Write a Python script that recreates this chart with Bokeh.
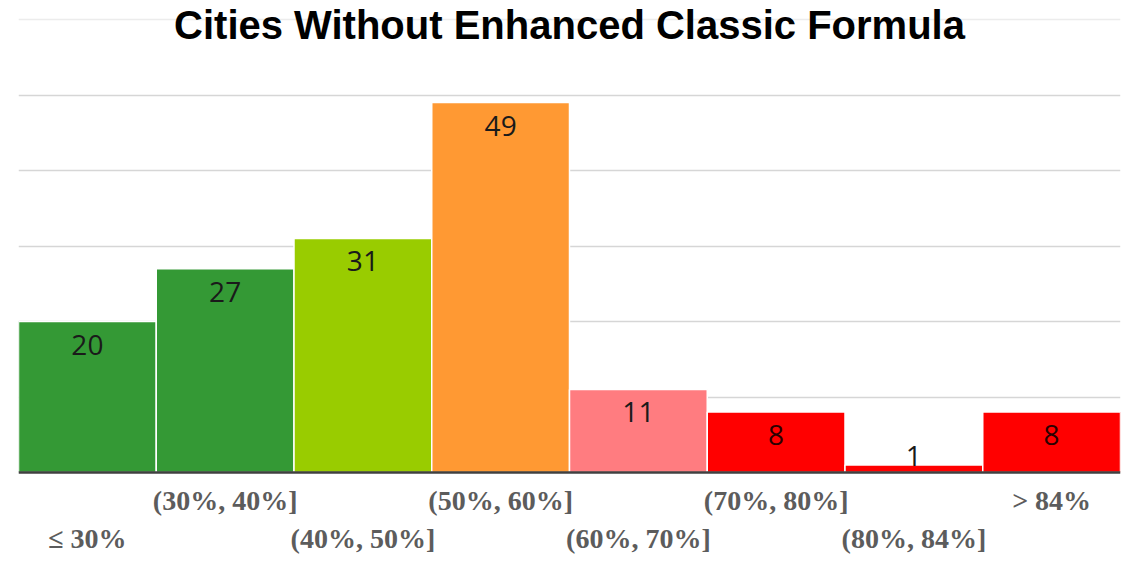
from bokeh.plotting import figure
from bokeh.models import ColumnDataSource, Span, FixedTicker, Label, Grid
from bokeh.core.properties import value
from bokeh.embed import file_html
from bokeh.resources import INLINE

# Distribution of cities by share range
categories = ["\u2264 30%", "(30%, 40%]", "(40%, 50%]", "(50%, 60%]",
              "(60%, 70%]", "(70%, 80%]", "(80%, 84%]", "> 84%"]
counts = [20, 27, 31, 49, 11, 8, 1, 8]
bar_colors = ["#349935", "#349935", "#99cc00", "#ff9933",
              "#ff7c80", "#ff0000", "#ff0000", "#ff0000"]
label_colors = ["#1a1a1a", "#1a1a1a", "#1a1a1a", "#1a1a1a",
                "#1a1a1a", "#2a0000", "#1a1a1a", "#2a0000"]
grid_ticks = [10, 20, 30, 40, 50]
top_tick = 60
title_text = "Cities Without Enhanced Classic Formula"

# Canvas geometry (pixels)
W, H = 1123, 571
LEFT, RIGHT = 18, 3
BASE_Y = 472            # canvas row of the zero line
PX_PER_UNIT = 7.55      # vertical pixels per city

n = len(categories)
xs = [i + 0.5 for i in range(n)]
y_start = -(H - BASE_Y) / PX_PER_UNIT
y_end = BASE_Y / PX_PER_UNIT

p = figure(width=W, height=H, x_range=(0, n), y_range=(y_start, y_end),
           output_backend="svg", toolbar_location=None,
           x_axis_type=None, y_axis_type=None,
           min_border_left=LEFT, min_border_right=RIGHT,
           min_border_top=0, min_border_bottom=0)
p.outline_line_color = None
p.background_fill_color = "white"
p.border_fill_color = "white"

p.add_layout(Grid(dimension=1, ticker=FixedTicker(ticks=grid_ticks),
                  grid_line_color="#d6d6d6", grid_line_width=1.5))
p.add_layout(Span(location=top_tick, dimension="width",
                  line_color="#ececec", line_width=1.5))

# Value labels sit inside tall bars, above very short ones
inside = [c * PX_PER_UNIT > 30 for c in counts]
src = ColumnDataSource(dict(
    x=xs, top=counts, color=bar_colors, lcolor=label_colors,
    label=[str(c) for c in counts],
    loff=[23 if ins else -9 for ins in inside],
    cat=categories,
    coff=[66 if i % 2 == 0 else 28 for i in range(n)],
    zero=[0] * n,
))

p.vbar(x="x", top="top", bottom=0, width=1, source=src,
       fill_color="color", line_color="white", line_width=1.5)

p.add_layout(Span(location=0, dimension="width",
                  line_color="#404040", line_width=2.5))

p.text(x="x", y="top", text="label", y_offset="loff", source=src,
       text_align="center", text_baseline="middle",
       text_font=value("Open Sans"), text_font_size="28px",
       text_color="lcolor")

p.text(x="x", y="zero", text="cat", y_offset="coff", source=src,
       text_align="center", text_baseline="middle",
       text_font=value("Liberation Serif"), text_font_style="bold",
       text_font_size="28px", text_color="#5c5c5c")

p.add_layout(Label(x=n / 2, y=(BASE_Y - 24) / PX_PER_UNIT, text=title_text,
                   text_align="center", text_baseline="middle",
                   text_font="Liberation Sans", text_font_style="bold",
                   text_font_size="40px", text_color="black"))

open("out.html", "w").write(file_html(p, INLINE))
